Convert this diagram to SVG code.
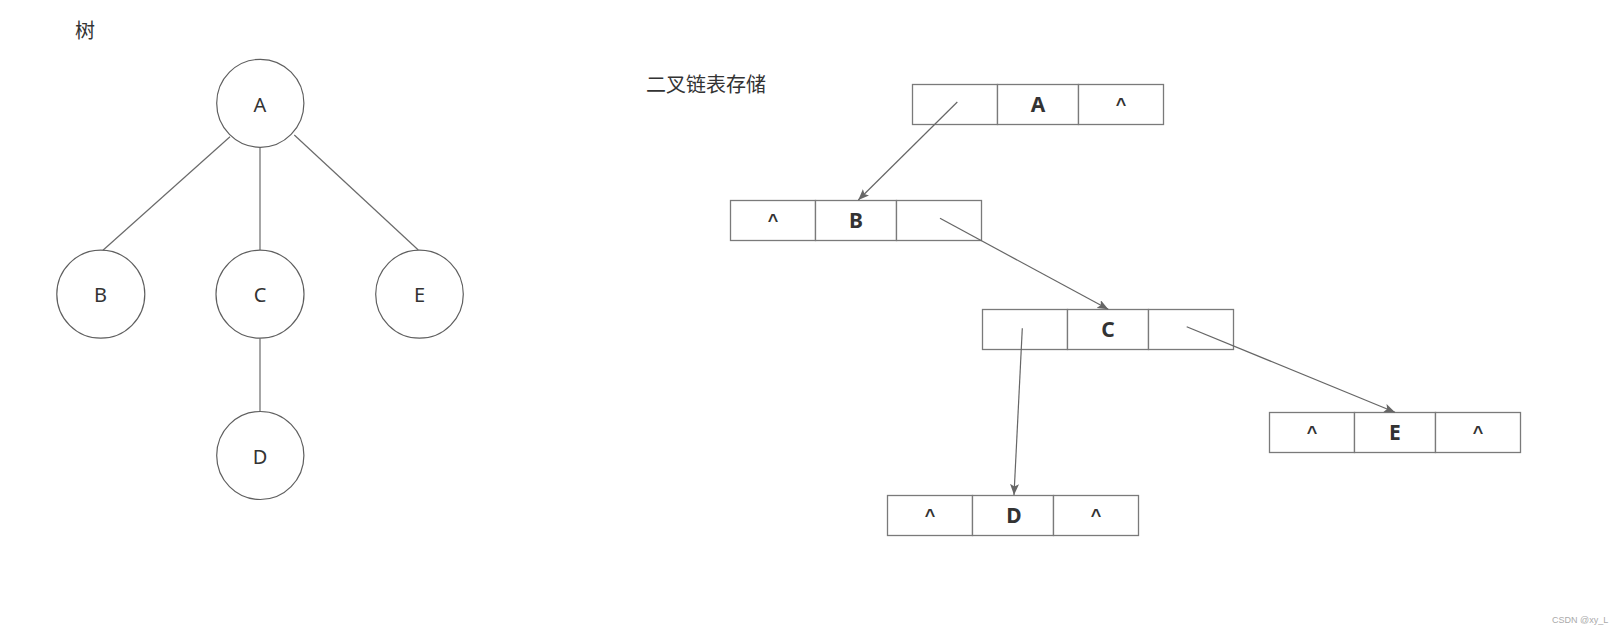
<svg xmlns="http://www.w3.org/2000/svg" width="1620" height="634" viewBox="0 0 1620 634">
<style>
.circ{fill:#fff;stroke:#5f5f5f;stroke-width:1.2}
.tl{stroke:#6a6a6a;stroke-width:1.2;fill:none}
.box{fill:#fff;stroke:#7a7a7a;stroke-width:1.3}
.ar{stroke:#666;stroke-width:1.2;fill:none;marker-end:url(#ah)}
.tt{font-family:"Noto Sans","Open Sans",sans-serif;font-size:20px;fill:#333;text-anchor:middle}
.bt{font-family:"Noto Sans","Open Sans",sans-serif;font-size:21px;font-weight:bold;fill:#333;text-anchor:middle}
.cr{font-family:"Liberation Sans",sans-serif;font-size:18px;font-weight:bold;fill:#333;text-anchor:middle}
.cj{font-family:"Noto Sans CJK SC",sans-serif;font-size:20px;fill:#333}
</style>
<defs>
<marker id="ah" markerUnits="userSpaceOnUse" markerWidth="12" markerHeight="10" refX="11" refY="4.5" orient="auto">
<path d="M0,0 L11,4.5 L0,9 L2.5,4.5 Z" fill="#666"/>
</marker>
</defs>
<rect width="1620" height="634" fill="#fff"/>
<text class="cj" x="75" y="38">树</text>
<text class="cj" x="646" y="92">二叉链表存储</text>
<g id="tree-edges">
<line class="tl" x1="230" y1="136.7" x2="102.7" y2="250.5"/>
<line class="tl" x1="260" y1="147.3" x2="260" y2="250"/>
<line class="tl" x1="294.3" y1="135" x2="418.3" y2="250"/>
<line class="tl" x1="260" y1="338.3" x2="260" y2="411.7"/>
</g>
<g id="tA"><ellipse class="circ" cx="260.3" cy="103.3" rx="43.6" ry="44"/><text class="tt" x="260" y="111.5">A</text></g>
<g id="tB"><ellipse class="circ" cx="100.8" cy="294.2" rx="44" ry="44"/><text class="tt" x="100.5" y="302">B</text></g>
<g id="tC"><ellipse class="circ" cx="260" cy="294.2" rx="44" ry="44"/><text class="tt" x="260" y="302">C</text></g>
<g id="tE"><ellipse class="circ" cx="419.5" cy="294.2" rx="43.8" ry="44"/><text class="tt" x="419.5" y="302">E</text></g>
<g id="tD"><ellipse class="circ" cx="260.3" cy="455.5" rx="43.6" ry="44"/><text class="tt" x="260" y="463.5">D</text></g>
<g id="nA">
<rect class="box" x="912.5" y="84.5" width="85" height="40"/><rect class="box" x="997.5" y="84.5" width="81" height="40"/><rect class="box" x="1078.5" y="84.5" width="85" height="40"/>
<text class="bt" x="1038" y="112">A</text><text class="cr" x="1121" y="111">^</text>
</g>
<g id="nB">
<rect class="box" x="730.5" y="200.5" width="85" height="40"/><rect class="box" x="815.5" y="200.5" width="81" height="40"/><rect class="box" x="896.5" y="200.5" width="85" height="40"/>
<text class="cr" x="773" y="227">^</text><text class="bt" x="856" y="228">B</text>
</g>
<g id="nC">
<rect class="box" x="982.5" y="309.5" width="85" height="40"/><rect class="box" x="1067.5" y="309.5" width="81" height="40"/><rect class="box" x="1148.5" y="309.5" width="85" height="40"/>
<text class="bt" x="1108" y="337">C</text>
</g>
<g id="nE">
<rect class="box" x="1269.5" y="412.5" width="85" height="40"/><rect class="box" x="1354.5" y="412.5" width="81" height="40"/><rect class="box" x="1435.5" y="412.5" width="85" height="40"/>
<text class="cr" x="1312" y="439">^</text><text class="bt" x="1395" y="440">E</text><text class="cr" x="1478" y="439">^</text>
</g>
<g id="nD">
<rect class="box" x="887.5" y="495.5" width="85" height="40"/><rect class="box" x="972.5" y="495.5" width="81" height="40"/><rect class="box" x="1053.5" y="495.5" width="85" height="40"/>
<text class="cr" x="930" y="522">^</text><text class="bt" x="1014" y="523">D</text><text class="cr" x="1096" y="522">^</text>
</g>
<g id="connectors">
<line class="ar" x1="957.3" y1="102" x2="858.3" y2="200"/>
<line class="ar" x1="940" y1="218.3" x2="1108.3" y2="309.3"/>
<line class="ar" x1="1022.3" y1="328.3" x2="1014" y2="495"/>
<line class="ar" x1="1186.7" y1="326.7" x2="1395" y2="412.3"/>
</g>
<text x="1552" y="623" font-family="Liberation Sans,sans-serif" font-size="9" fill="#aaa">CSDN @xy_L</text>
</svg>
